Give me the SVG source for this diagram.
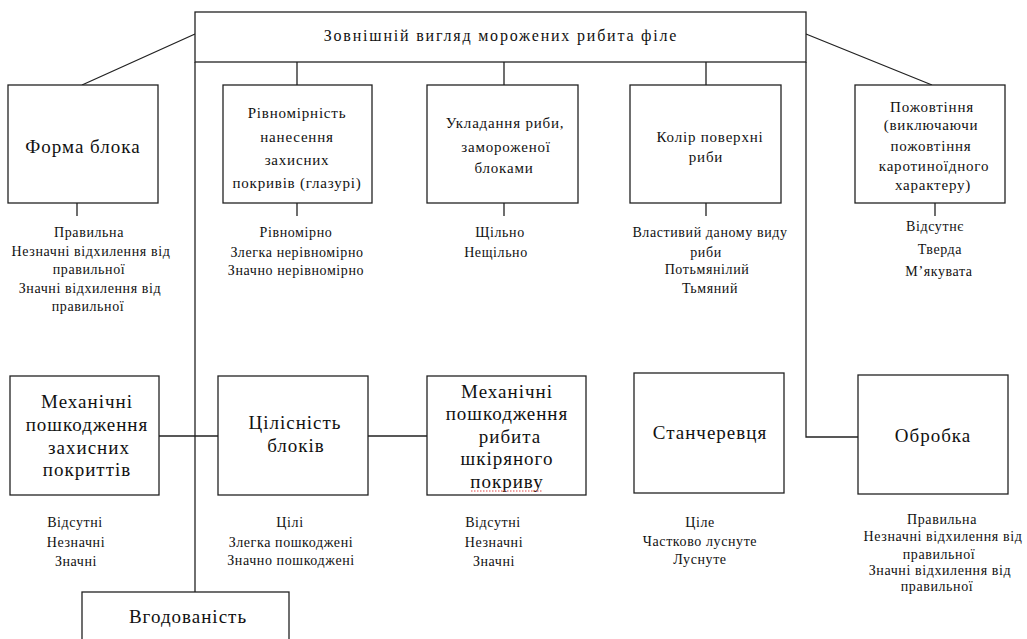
<svg xmlns="http://www.w3.org/2000/svg" width="1027" height="639" viewBox="0 0 1027 639">
<style>
.box{fill:#fff;stroke:#222;stroke-width:1.3}
.ln{fill:none;stroke:#222;stroke-width:1.3}
text{font-family:"Liberation Serif","DejaVu Serif",serif;fill:#111;text-anchor:middle}
.title{font-size:16px;letter-spacing:1.8px}
.big{font-size:19px;letter-spacing:1px}
.mid{font-size:15px;letter-spacing:0.8px}
.opt{font-size:14px;letter-spacing:0.6px}
</style>
<rect width="1027" height="639" fill="#fff"/>
<g id="connectors">
<path class="ln" d="M195,62V592"/>
<path class="ln" d="M806,62V437H858"/>
<path class="ln" d="M297,62V85M504,62V85M706,62V85"/>
<path class="ln" d="M195,34L82,85M806,34L932,85"/>
<path class="ln" d="M77,203V216M297,203V216M504,203V216M706,203V216M935,203V216"/>
<path class="ln" d="M159,436H218M368,436H427"/>
</g>
<g id="title">
<rect class="box" x="195" y="12" width="611" height="50"/>
<text class="title" x="501" y="41">Зовнішній вигляд морожених рибита філе</text>
</g>
<g id="forma">
<rect class="box" x="8" y="85" width="150" height="118"/>
<text class="big" x="83" y="153">Форма блока</text>
</g>
<g id="forma-opts" class="opt">
<text x="89" y="237">Правильна</text>
<text x="91" y="256">Незначні  відхилення від</text>
<text x="89" y="274">правильної</text>
<text x="90" y="293">Значні  відхилення від</text>
<text x="88" y="311">правильної</text>
</g>
<g id="rivnomirnist">
<rect class="box" x="223" y="85" width="149" height="118"/>
<text class="mid" x="297" y="118">Рівномірність</text>
<text class="mid" x="297" y="142">нанесення</text>
<text class="mid" x="297" y="165">захисних</text>
<text class="mid" x="297" y="188">покривів (глазурі)</text>
</g>
<g id="rivnomirnist-opts" class="opt">
<text x="296" y="237">Рівномірно</text>
<text x="297" y="257">Злегка нерівномірно</text>
<text x="296" y="275">Значно нерівномірно</text>
</g>
<g id="ukladannya">
<rect class="box" x="427" y="85" width="151" height="118"/>
<text class="mid" x="505" y="128">Укладання риби,</text>
<text class="mid" x="506" y="152">замороженої</text>
<text class="mid" x="504" y="173">блоками</text>
</g>
<g id="ukladannya-opts" class="opt">
<text x="500" y="237">Щільно</text>
<text x="496" y="257">Нещільно</text>
</g>
<g id="kolir">
<rect class="box" x="630" y="85" width="151" height="118"/>
<text class="mid" x="710" y="142">Колір поверхні</text>
<text class="mid" x="706" y="162">риби</text>
</g>
<g id="kolir-opts" class="opt">
<text x="710" y="237">Властивий  даному  виду</text>
<text x="706" y="257">риби</text>
<text x="707" y="274">Потьмянілий</text>
<text x="710" y="293">Тьмяний</text>
</g>
<g id="pozhovtinnya">
<rect class="box" x="855" y="85" width="150" height="118"/>
<text class="mid" x="932" y="112">Пожовтіння</text>
<text class="mid" x="931" y="130">(виключаючи</text>
<text class="mid" x="931" y="151">пожовтіння</text>
<text class="mid" x="934" y="171">каротиноїдного</text>
<text class="mid" x="933" y="190">характеру)</text>
</g>
<g id="pozhovtinnya-opts" class="opt">
<text x="935" y="231">Відсутнє</text>
<text x="940" y="254">Тверда</text>
<text x="939" y="276">М’якувата</text>
</g>
<g id="mekh-zakhysnykh">
<rect class="box" x="10" y="376" width="149" height="119"/>
<text class="big" x="87" y="408">Механічні</text>
<text class="big" x="87" y="431">пошкодження</text>
<text class="big" x="89" y="454">захисних</text>
<text class="big" x="87" y="476">покриттів</text>
</g>
<g id="mekh-zakhysnykh-opts" class="opt">
<text x="75" y="527">Відсутні</text>
<text x="76" y="547">Незначні</text>
<text x="76" y="566">Значні</text>
</g>
<g id="tsilisnist">
<rect class="box" x="218" y="376" width="150" height="119"/>
<text class="big" x="295" y="429">Цілісність</text>
<text class="big" x="296" y="452">блоків</text>
</g>
<g id="tsilisnist-opts" class="opt">
<text x="290" y="527">Цілі</text>
<text x="291" y="547">Злегка  пошкоджені</text>
<text x="291" y="565">Значно  пошкоджені</text>
</g>
<g id="mekh-shkiry">
<rect class="box" x="427" y="376" width="159" height="119"/>
<text class="big" x="507" y="398">Механічні</text>
<text class="big" x="507" y="420">пошкодження</text>
<text class="big" x="510" y="443">рибита</text>
<text class="big" x="507" y="465">шкіряного</text>
<text class="big" x="507" y="488">покриву</text>
<path d="M471,491H543" fill="none" stroke="#d44" stroke-width="1" stroke-dasharray="1.5 1.5"/>
</g>
<g id="mekh-shkiry-opts" class="opt">
<text x="493" y="527">Відсутні</text>
<text x="494" y="547">Незначні</text>
<text x="494" y="566">Значні</text>
</g>
<g id="stan-cherevtsya">
<rect class="box" x="634" y="373" width="150" height="120"/>
<text class="big" x="710" y="439">Станчеревця</text>
</g>
<g id="stan-cherevtsya-opts" class="opt">
<text x="700" y="527">Ціле</text>
<text x="700" y="546">Частково  луснуте</text>
<text x="700" y="564">Луснуте</text>
</g>
<g id="obrobka">
<rect class="box" x="858" y="375" width="150" height="119"/>
<text class="big" x="933" y="442">Обробка</text>
</g>
<g id="obrobka-opts" class="opt">
<text x="942" y="524">Правильна</text>
<text x="943" y="541">Незначні  відхилення від</text>
<text x="939" y="559">правильної</text>
<text x="940" y="575">Значні  відхилення від</text>
<text x="937" y="591">правильної</text>
</g>
<g id="vgodovanist">
<rect class="box" x="82" y="592" width="207" height="60"/>
<text class="big" x="188" y="623">Вгодованість</text>
</g>
</svg>
